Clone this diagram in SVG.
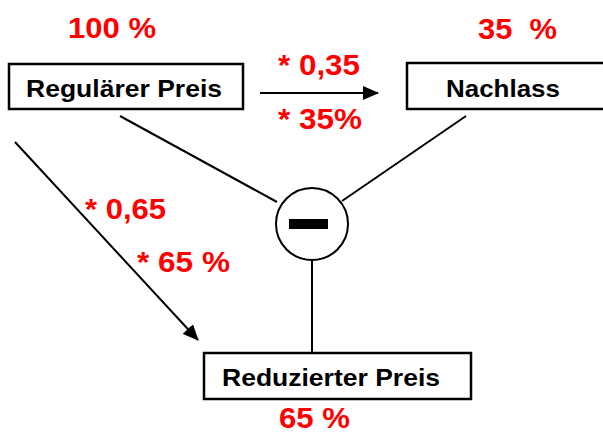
<svg xmlns="http://www.w3.org/2000/svg" width="603" height="434" viewBox="0 0 603 434">
<style>
.box{fill:#fff;stroke:#000;stroke-width:2.5}
.lbl{font-family:"Liberation Sans",Arial,sans-serif;font-weight:bold;font-size:24px;fill:#000}
.red{font-family:"Liberation Sans",Arial,sans-serif;font-weight:bold;font-size:30px;fill:#ff0000}
.ln{stroke:#000;stroke-width:2;fill:none}
</style>
<defs>
<marker id="ah" markerWidth="16" markerHeight="14" refX="15" refY="7" orient="auto" markerUnits="userSpaceOnUse">
<path d="M0,0 L16,7 L0,14 Z" fill="#000"/>
</marker>
</defs>
<rect width="603" height="434" fill="#fff"/>
<g id="connectors">
<line class="ln" x1="260" y1="93" x2="378" y2="93" marker-end="url(#ah)"/>
<line class="ln" x1="15" y1="142" x2="198" y2="340" marker-end="url(#ah)"/>
<line class="ln" x1="120" y1="116" x2="277" y2="202"/>
<line class="ln" x1="466" y1="116" x2="342" y2="201"/>
<line class="ln" x1="312" y1="261" x2="312" y2="353"/>
</g>
<g id="regulaer">
<rect class="box" x="9" y="64" width="234" height="45"/>
<text class="lbl" x="26" y="97" textLength="196" lengthAdjust="spacingAndGlyphs">Regulärer Preis</text>
</g>
<g id="nachlass">
<rect class="box" x="407" y="63" width="205" height="46"/>
<text class="lbl" x="446" y="97" textLength="114" lengthAdjust="spacingAndGlyphs">Nachlass</text>
</g>
<g id="minus">
<circle cx="312" cy="224" r="36" fill="#fff" stroke="#000" stroke-width="2"/>
<rect x="289" y="219" width="39" height="10" fill="#000"/>
</g>
<g id="reduziert">
<rect class="box" x="204" y="353" width="267" height="46"/>
<text class="lbl" x="222" y="386" textLength="218" lengthAdjust="spacingAndGlyphs">Reduzierter Preis</text>
</g>
<g id="labels">
<text class="red" x="68" y="38" textLength="88" lengthAdjust="spacingAndGlyphs">100 %</text>
<text class="red" x="478" y="39" textLength="79" lengthAdjust="spacingAndGlyphs" xml:space="preserve">35  %</text>
<text class="red" x="278" y="75" textLength="82" lengthAdjust="spacingAndGlyphs">* 0,35</text>
<text class="red" x="278" y="129" textLength="84" lengthAdjust="spacingAndGlyphs">* 35%</text>
<text class="red" x="85" y="219" textLength="81" lengthAdjust="spacingAndGlyphs">* 0,65</text>
<text class="red" x="137" y="272" textLength="93" lengthAdjust="spacingAndGlyphs">* 65 %</text>
<text class="red" x="279" y="428" textLength="71" lengthAdjust="spacingAndGlyphs">65 %</text>
</g>
</svg>
